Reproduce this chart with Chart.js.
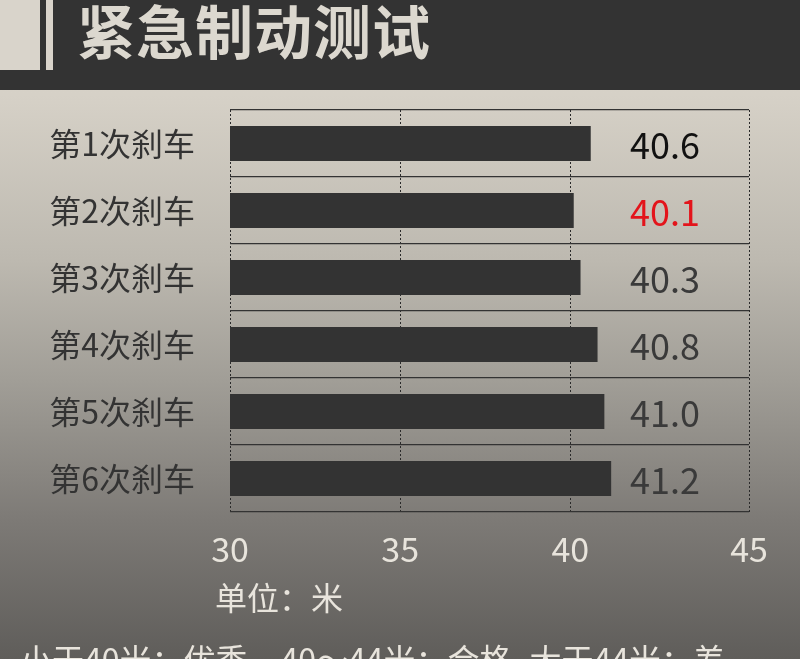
<!DOCTYPE html>
<html>
<head>
<meta charset="utf-8">
<script src="https://cdn.jsdelivr.net/npm/chart.js@4/dist/chart.umd.min.js"></script>
<style>
  html, body { margin: 0; padding: 0; }
  body {
    width: 800px; height: 659px; position: relative; overflow: hidden;
    background: linear-gradient(to bottom, #d9d4c9 0px, #d6d1c7 95px, #bdb9b0 260px, #a19e97 380px, #7d7a76 520px, #5f5d5a 659px);
    font-family: "Noto Sans CJK SC", sans-serif;
  }
  #header { position: absolute; left: 0; top: 0; width: 800px; height: 90px; background: #333333; }
  #blockA { position: absolute; left: 0; top: 0; width: 40px; height: 70px; background: #d9d4cb; }
  #blockB { position: absolute; left: 46px; top: 0; width: 7px; height: 70px; background: #d9d4cb; }
  #title { position: absolute; left: 77px; top: 0px; font-size: 58px; line-height: 58px; font-weight: bold; color: #dcd8cf; letter-spacing: 1px; white-space: nowrap; }
  #wrap { position: absolute; left: 0; top: 90px; width: 800px; height: 569px; }
  #unit { position: absolute; left: 215px; top: 576px; font-size: 32px; line-height: 40px; color: #e8e4dc; white-space: nowrap; }
  #note { position: absolute; left: 20px; top: 636px; font-size: 32px; line-height: 44px; color: #e8e4dc; white-space: nowrap; }
  #note span.g1 { margin-left: 33px; }
  #note span.g2 { margin-left: 18px; }
</style>
</head>
<body>
<div id="header"><div id="blockA"></div><div id="blockB"></div><div id="title">紧急制动测试</div></div>
<div id="wrap"><canvas id="c" width="800" height="569"></canvas></div>
<div id="unit">单位：米</div>
<div id="note"><span>小于40米：优秀</span><span class="g1">40～44米：合格</span><span class="g2">大于44米：差</span></div>
<script>
// ---- data ----
const categories = ['第1次刹车', '第2次刹车', '第3次刹车', '第4次刹车', '第5次刹车', '第6次刹车'];
const values = [40.6, 40.1, 40.3, 40.8, 41.0, 41.2];
const valueColors = ['#111111', '#e3141b', '#3a3a3a', '#3a3a3a', '#3a3a3a', '#3a3a3a'];
const axisMin = 30;
const axisMax = 45.25;          // the plot's right border in the reference sits slightly past 45
const tickValues = [30, 35, 40, 45.25];
const tickLabels = ['30', '35', '40', '45'];

const valueLabelPlugin = {
  id: 'valueLabels',
  afterDatasetsDraw(chart) {
    const ctx = chart.ctx;
    const meta = chart.getDatasetMeta(0);
    const area = chart.chartArea;
    ctx.save();
    ctx.font = '36px "Noto Sans CJK SC"';
    ctx.textAlign = 'center';
    ctx.textBaseline = 'middle';
    meta.data.forEach((bar, i) => {
      ctx.fillStyle = valueColors[i];
      ctx.fillText(values[i].toFixed(1), area.right - 84, bar.y + 2);
    });
    ctx.restore();
  }
};

new Chart(document.getElementById('c'), {
  type: 'bar',
  data: {
    labels: categories,
    datasets: [{
      data: values,
      backgroundColor: '#333333',
      borderWidth: 0,
      barPercentage: 0.52,
      categoryPercentage: 1.0
    }]
  },
  options: {
    indexAxis: 'y',
    responsive: false,
    animation: false,
    devicePixelRatio: 1,
    layout: { padding: { top: 20, right: 51, left: 0, bottom: 0 } },
    plugins: { legend: { display: false }, tooltip: { enabled: false }, title: { display: false } },
    scales: {
      x: {
        min: axisMin,
        max: axisMax,
        afterBuildTicks(scale) { scale.ticks = tickValues.map(v => ({ value: v })); },
        afterFit(scale) { scale.height = 147; },
        ticks: {
          padding: 17,
          color: '#e8e4dc',
          font: { size: 34, family: '"Noto Sans CJK SC"' },
          maxRotation: 0,
          autoSkip: false,
          callback(value, index) { return tickLabels[index]; }
        },
        grid: { color: '#2a2a2a', lineWidth: 1, drawTicks: false },
        border: { display: false, dash: [2, 2] }
      },
      y: {
        afterFit(scale) { scale.width = 230; scale.paddingTop = 0; scale.paddingBottom = 0; },
        ticks: {
          padding: 35,
          color: '#333333',
          font: { size: 32, family: '"Noto Sans CJK SC"' }
        },
        grid: { color: '#333333', lineWidth: 1.2, drawTicks: false, offset: true },
        border: { display: false }
      }
    }
  },
  plugins: [valueLabelPlugin]
});
</script>
</body>
</html>
